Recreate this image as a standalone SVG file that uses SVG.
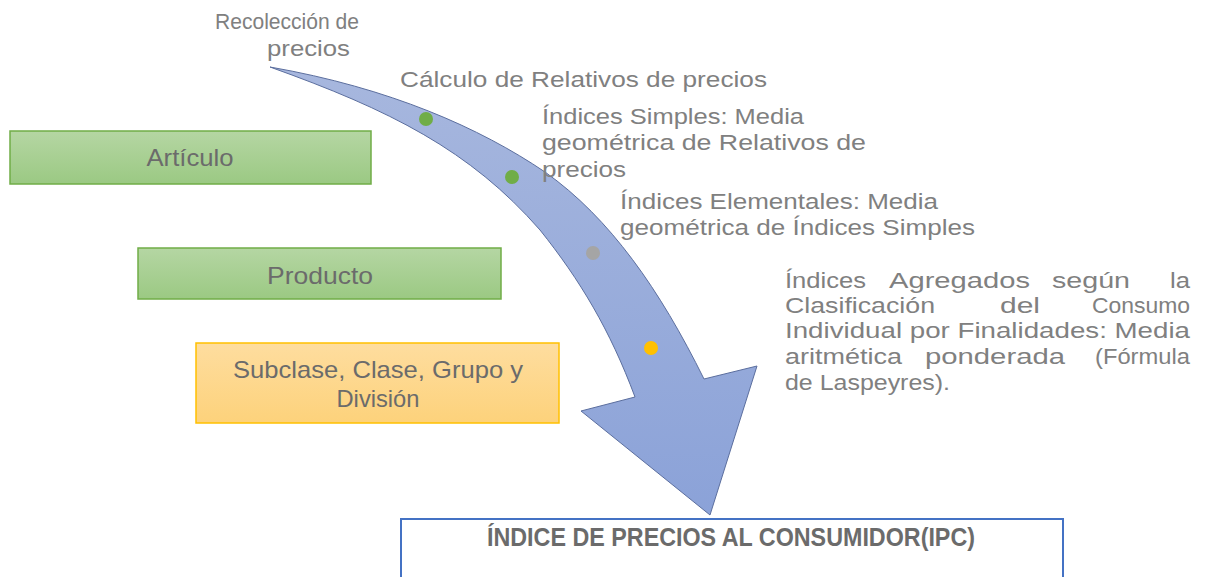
<svg xmlns="http://www.w3.org/2000/svg" width="1206" height="577" viewBox="0 0 1206 577">
<defs>
<linearGradient id="gGreen" x1="0" y1="0" x2="0" y2="1"><stop offset="0" stop-color="#b5d6a3"/><stop offset="1" stop-color="#9bc983"/></linearGradient>
<linearGradient id="gOrange" x1="0" y1="0" x2="0" y2="1"><stop offset="0" stop-color="#fedd9f"/><stop offset="1" stop-color="#fdd27b"/></linearGradient>
<linearGradient id="gBlue" x1="0" y1="0" x2="0" y2="1"><stop offset="0" stop-color="#a7b7de"/><stop offset="1" stop-color="#8ba2d8"/></linearGradient>
<style>
.lbl{font-family:"Liberation Sans",Arial,sans-serif;font-size:22px;fill:#808080;}
.box{font-family:"Liberation Sans",Arial,sans-serif;font-size:24px;fill:#6b6b6b;text-anchor:middle;}
.gbox{fill:url(#gGreen);stroke:#70ad47;stroke-width:1.5;}
.obox{fill:url(#gOrange);stroke:#ffc000;stroke-width:1.5;}
.ipc{font-family:"Liberation Sans",Arial,sans-serif;font-size:25px;font-weight:bold;fill:#6b6b6b;}
</style>
</defs>
<rect width="1206" height="577" fill="#ffffff"/>

<g id="connectors">
<path id="arrow" d="M270,67 C390,88 480,128 545,172 C610,218 660,290 704,379 L757,366 L710,515 L581,411 L635,397 C610,330 580,280 540,230 C470,150 390,110 270,67 Z" fill="url(#gBlue)" stroke="#5b6e9e" stroke-width="1"/>
<circle cx="426" cy="119" r="7" fill="#70ad47"/>
<circle cx="512" cy="177" r="7" fill="#70ad47"/>
<circle cx="593" cy="253" r="7" fill="#a5a5a5"/>
<circle cx="651" cy="348" r="7" fill="#ffc000"/>
</g>

<g id="labels">
<text class="lbl" x="215" y="29" textLength="144" lengthAdjust="spacingAndGlyphs">Recolección de</text>
<text class="lbl" x="267" y="56" textLength="83" lengthAdjust="spacingAndGlyphs">precios</text>
<text class="lbl" x="400" y="87" textLength="367" lengthAdjust="spacingAndGlyphs">Cálculo de Relativos de precios</text>
<text class="lbl" x="542" y="124" textLength="262" lengthAdjust="spacingAndGlyphs">Índices Simples: Media</text>
<text class="lbl" x="542" y="150" textLength="324" lengthAdjust="spacingAndGlyphs">geométrica de Relativos de</text>
<text class="lbl" x="542" y="177" textLength="84" lengthAdjust="spacingAndGlyphs">precios</text>
<text class="lbl" x="620" y="209" textLength="318" lengthAdjust="spacingAndGlyphs">Índices Elementales: Media</text>
<text class="lbl" x="620" y="235" textLength="355" lengthAdjust="spacingAndGlyphs">geométrica de Índices Simples</text>
<text class="lbl" y="288"><tspan x="785" textLength="81" lengthAdjust="spacingAndGlyphs">Índices</tspan><tspan x="889" textLength="141" lengthAdjust="spacingAndGlyphs">Agregados</tspan><tspan x="1052" textLength="78" lengthAdjust="spacingAndGlyphs">según</tspan><tspan x="1170" textLength="20" lengthAdjust="spacingAndGlyphs">la</tspan></text>
<text class="lbl" y="313"><tspan x="785" textLength="150" lengthAdjust="spacingAndGlyphs">Clasificación</tspan><tspan x="1000" textLength="40" lengthAdjust="spacingAndGlyphs">del</tspan><tspan x="1092" textLength="98" lengthAdjust="spacingAndGlyphs">Consumo</tspan></text>
<text class="lbl" x="785" y="338" textLength="405" lengthAdjust="spacingAndGlyphs">Individual por Finalidades: Media</text>
<text class="lbl" y="364"><tspan x="785" textLength="117" lengthAdjust="spacingAndGlyphs">aritmética</tspan><tspan x="925" textLength="140" lengthAdjust="spacingAndGlyphs">ponderada</tspan><tspan x="1095" textLength="95" lengthAdjust="spacingAndGlyphs">(Fórmula</tspan></text>
<text class="lbl" x="785" y="390" textLength="165" lengthAdjust="spacingAndGlyphs">de Laspeyres).</text>
</g>

<g id="node-articulo">
<rect class="gbox" x="10" y="131" width="361" height="53"/>
<text class="box" x="190" y="166" textLength="87" lengthAdjust="spacingAndGlyphs">Artículo</text>
</g>
<g id="node-producto">
<rect class="gbox" x="138" y="248" width="363" height="51"/>
<text class="box" x="320" y="284" textLength="106" lengthAdjust="spacingAndGlyphs">Producto</text>
</g>
<g id="node-subclase">
<rect class="obox" x="196" y="343" width="363" height="80"/>
<text class="box" x="378" y="378" textLength="290" lengthAdjust="spacingAndGlyphs">Subclase, Clase, Grupo y</text>
<text class="box" x="378" y="407" textLength="83" lengthAdjust="spacingAndGlyphs">División</text>
</g>
<g id="node-ipc">
<rect x="401" y="519" width="662" height="70" fill="#ffffff" stroke="#4472c4" stroke-width="2"/>
<text class="ipc" x="487" y="546" textLength="488" lengthAdjust="spacingAndGlyphs">ÍNDICE DE PRECIOS AL CONSUMIDOR(IPC)</text>
</g>
</svg>
